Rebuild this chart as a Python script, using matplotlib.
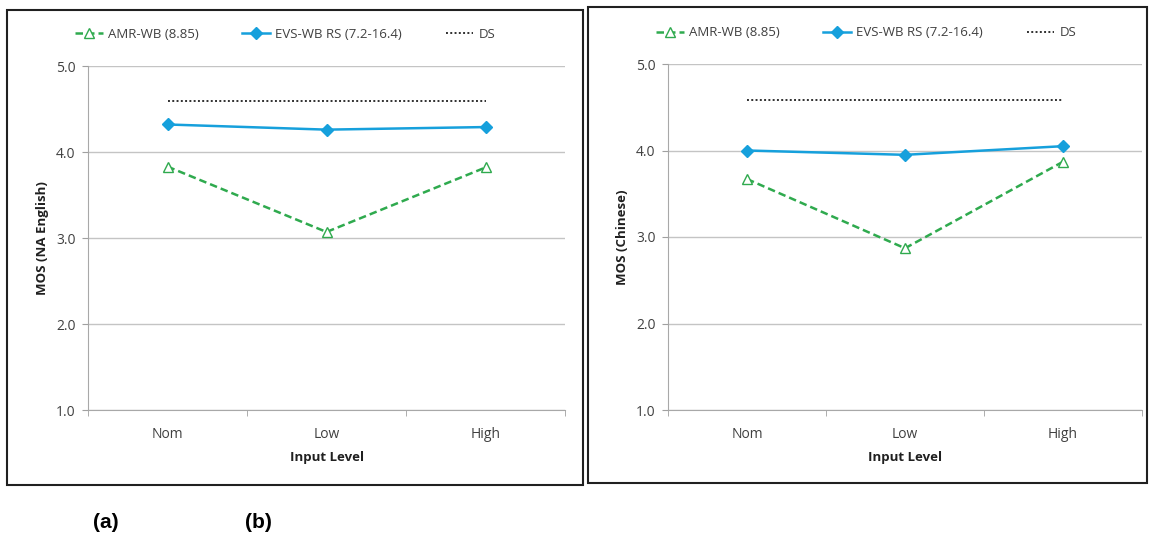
import matplotlib
matplotlib.use("Agg")
import matplotlib.pyplot as plt
from matplotlib.patches import Rectangle

plt.rcParams["font.family"] = ["Open Sans", "DejaVu Sans"]

levels = ["Nom", "Low", "High"]
series_names = ["AMR-WB (8.85)", "EVS-WB RS (7.2-16.4)", "DS"]

amr_en = [3.83, 3.07, 3.82]
evs_en = [4.32, 4.26, 4.29]
ds_en = [4.59, 4.59, 4.59]

amr_cn = [3.67, 2.87, 3.87]
evs_cn = [4.00, 3.95, 4.05]
ds_cn = [4.58, 4.58, 4.58]

y_ticks = [1.0, 2.0, 3.0, 4.0, 5.0]
panel_labels = ["(a)", "(b)"]

GREEN = "#2faa4e"
BLUE = "#16a0dc"
GRID = "#c4c4c4"
TXT = "#404040"

W, H = 1152, 536
fig = plt.figure(figsize=(W / 100, H / 100), dpi=100)


def px(x0, y0, x1, y1):
    # pixel box (top-left origin) -> figure fraction rect
    return [x0 / W, 1 - y1 / H, (x1 - x0) / W, (y1 - y0) / H]


def draw_panel(rect, amr, evs, ds, ylabel, leg_x, leg_y):
    ax = fig.add_axes(rect)
    x = list(range(len(levels)))
    l1, = ax.plot(x, amr, ls="--", lw=1.8, color=GREEN, marker="^", ms=7.5,
                  mfc="white", mec=GREEN, mew=1.0, dashes=(3, 1.6))
    l2, = ax.plot(x, evs, ls="-", lw=1.8, color=BLUE, marker="D", ms=6.5,
                  mfc=BLUE, mec=BLUE)
    l3, = ax.plot(x, ds, ls=(0, (1, 1.2)), lw=1.4, color="#303030")
    ax.set_xlim(-0.5, len(levels) - 0.5)
    ax.set_ylim(1.0, 5.0)
    ax.set_yticks(y_ticks)
    ax.set_yticklabels([f"{v:.1f}" for v in y_ticks], fontsize=10, color=TXT)
    ax.set_xticks(x)
    ax.set_xticklabels(levels, fontsize=10, color=TXT)
    ax.set_xticks([-0.5, 0.5, 1.5, 2.5], minor=True)
    ax.tick_params(axis="x", which="major", length=0, pad=12)
    ax.tick_params(axis="x", which="minor", length=4, color="#a0a0a0")
    ax.tick_params(axis="y", length=4, color="#a0a0a0", pad=5)
    ax.grid(axis="y", color=GRID, lw=1.0)
    ax.set_axisbelow(True)
    for s in ["top", "right"]:
        ax.spines[s].set_visible(False)
    for s in ["left", "bottom"]:
        ax.spines[s].set_color("#a8a8a8")
    ax.set_ylabel(ylabel, fontsize=9.5, fontweight="bold", color="#202020", labelpad=5)
    ax.set_xlabel("Input Level", fontsize=9.5, fontweight="bold", color="#202020", labelpad=7)
    fig.legend([l1, l2, l3], series_names, loc="center left",
               bbox_to_anchor=(leg_x, leg_y), ncol=3, frameon=False, fontsize=9.5,
               handlelength=2.1, columnspacing=3.3, handletextpad=0.4,
               borderpad=0, borderaxespad=0, labelcolor=TXT)
    return ax


draw_panel(px(88, 66, 565, 410), amr_en, evs_en, ds_en, "MOS (NA English)",
           75 / W, 1 - 34 / H)
draw_panel(px(668, 64, 1142, 410), amr_cn, evs_cn, ds_cn, "MOS (Chinese)",
           656 / W, 1 - 33 / H)

# panel borders
for (x0, y0, x1, y1) in [(7, 10, 583, 485), (588, 7, 1147, 483)]:
    r = px(x0, y0, x1, y1)
    fig.patches.append(Rectangle((r[0], r[1]), r[2], r[3], transform=fig.transFigure,
                                 fill=False, ec="#202020", lw=1.5))

for lab, xp in zip(panel_labels, [106, 258]):
    fig.text(xp / W, 1 - 522 / H, lab, ha="center", va="center", fontsize=15,
             fontweight="bold", family=["Liberation Sans", "DejaVu Sans"])

fig.savefig("out.png", dpi=100)
